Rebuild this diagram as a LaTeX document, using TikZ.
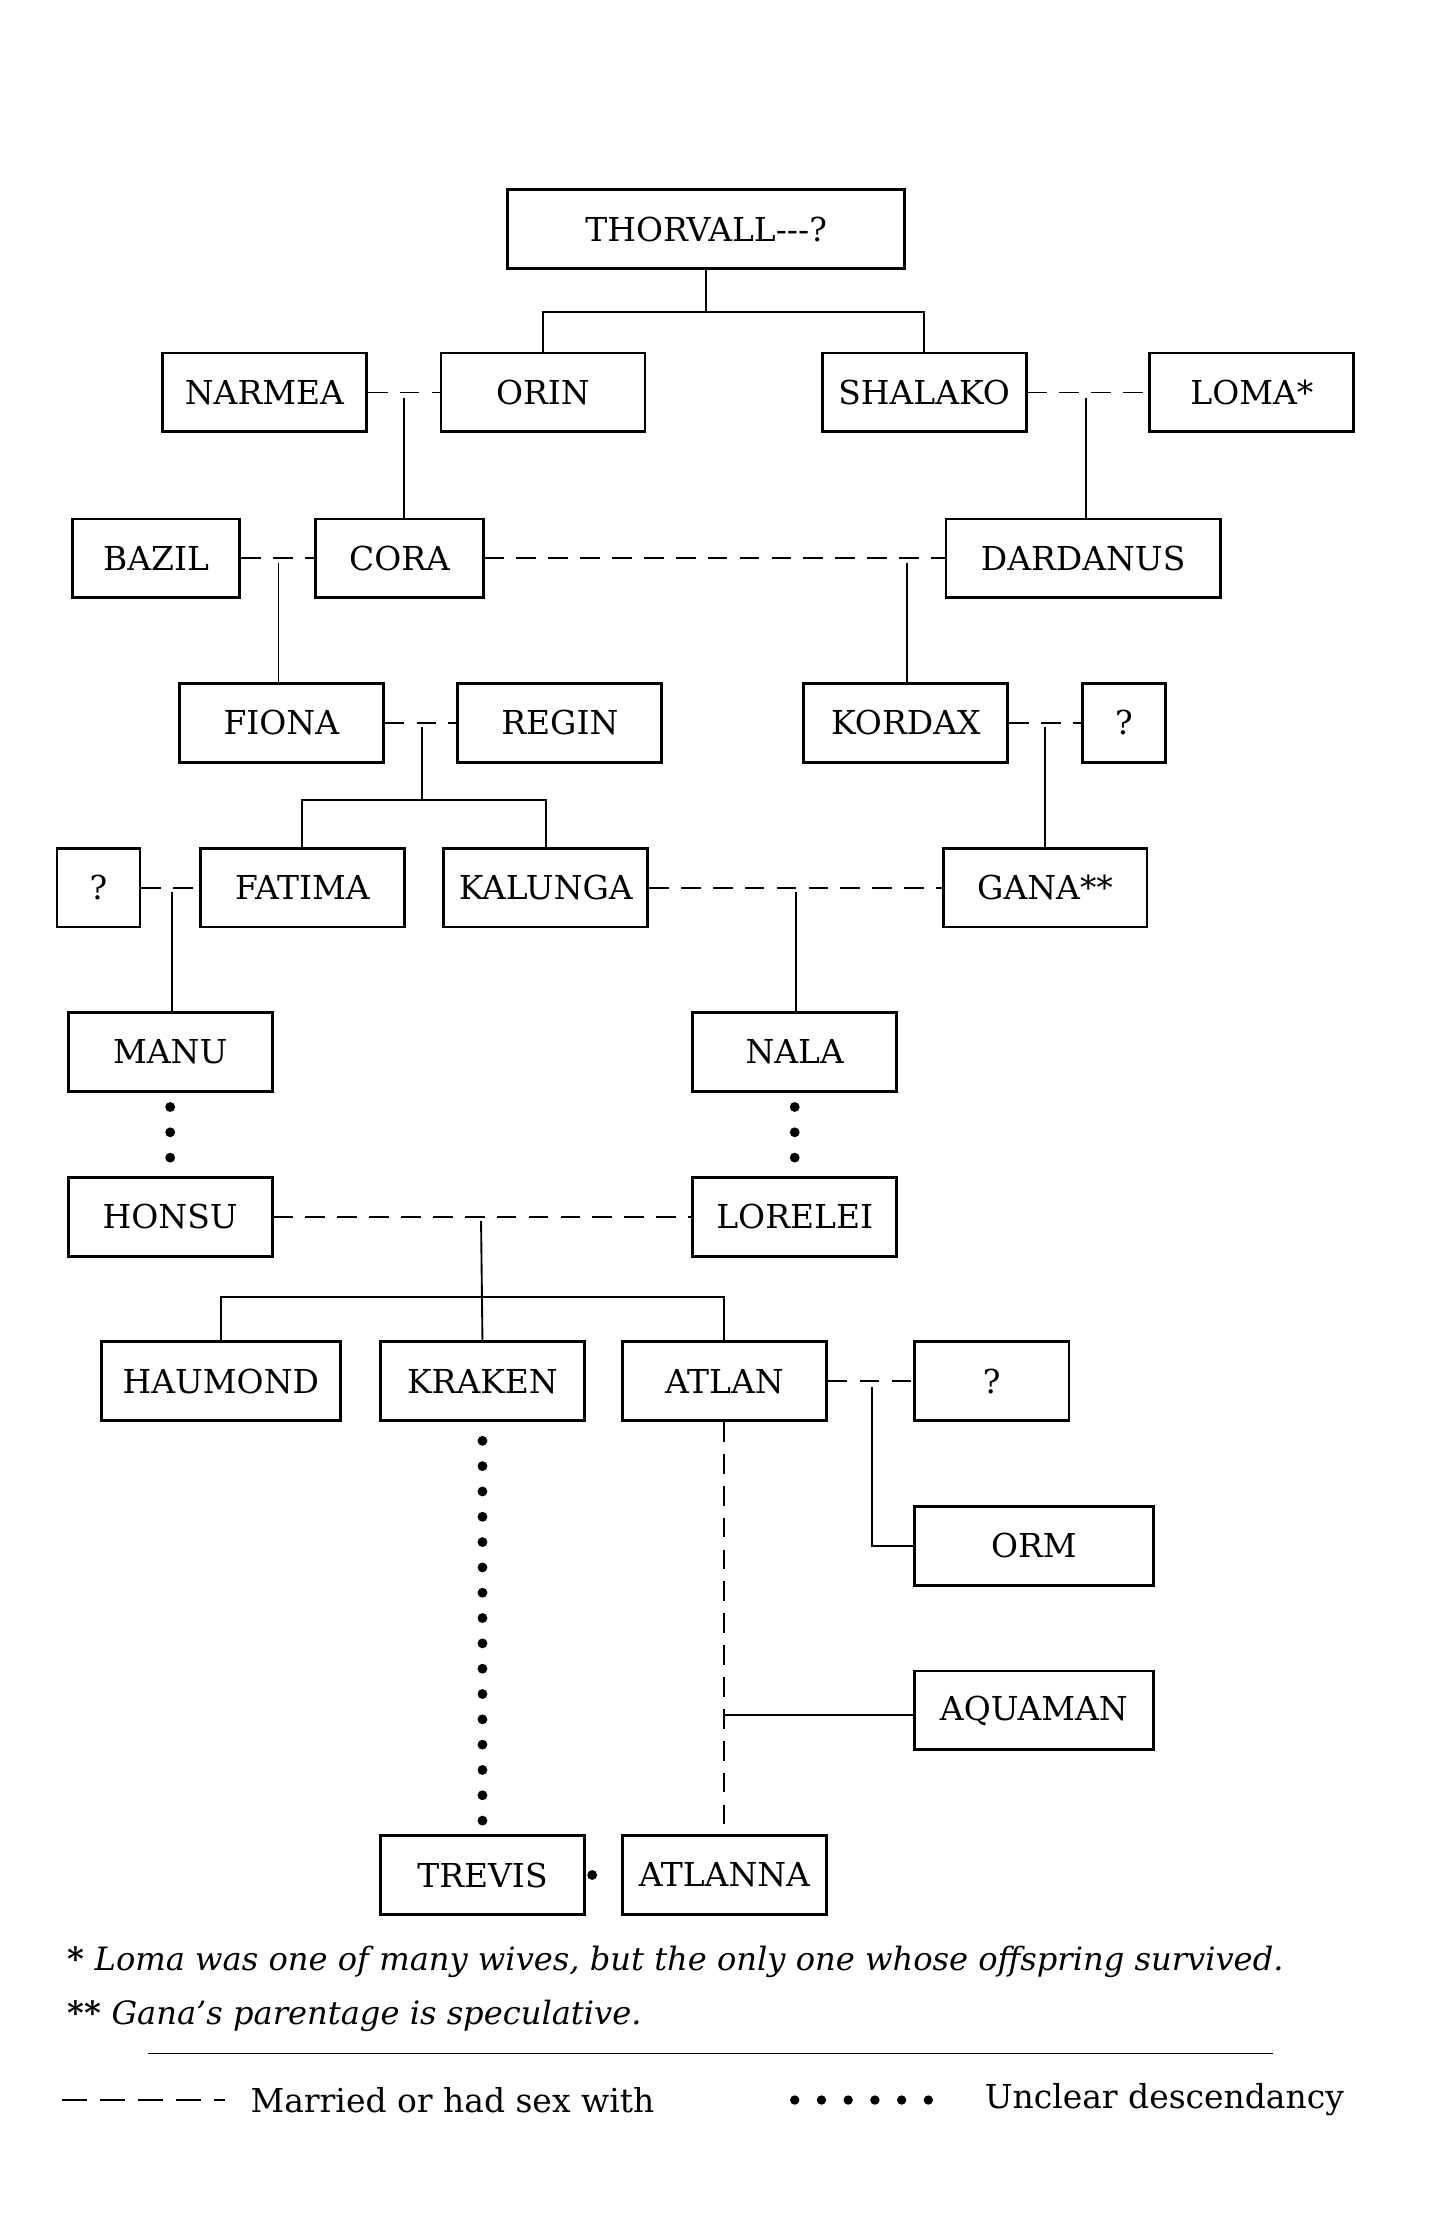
\documentclass[tikz,border=0pt]{standalone}
\usepackage{fontspec}
\setmainfont{DejaVu Serif}
\begin{document}
\begin{tikzpicture}[x=0.3mm,y=-0.3mm,
 box/.style={draw,line width=0.6mm,minimum height=16.8mm,inner sep=0,font=\fontsize{20}{22}\selectfont},
 w145/.style={box,minimum width=43.5mm},
 ln/.style={line width=0.4mm},
 md/.style={line width=0.4mm,dash pattern=on 4.2mm off 2.6mm},
 dt/.style={line width=2.1mm,line cap=round,dash pattern=on 0mm off 5.4mm}]
\useasboundingbox (0,0) rectangle (1024,1579);
\node[box,minimum width=84.6mm] (th) at (502,163) {THORVALL{-}{-}{-}?};
\node[w145] (narmea) at (188,279) {NARMEA};
\node[w145] (orin) at (386,279) {ORIN};
\node[w145] (shalako) at (657,279) {SHALAKO};
\node[w145] (loma) at (890,279) {LOMA*};
\node[box,minimum width=35.7mm] (bazil) at (111,397) {BAZIL};
\node[box,minimum width=35.7mm] (cora) at (284,397) {CORA};
\node[box,minimum width=58.5mm] (dard) at (770,397) {DARDANUS};
\node[w145] (fiona) at (200,514) {FIONA};
\node[w145] (regin) at (398,514) {REGIN};
\node[w145] (kordax) at (644,514) {KORDAX};
\node[box,minimum width=17.7mm] (q1) at (799,514) {?};
\node[box,minimum width=17.7mm] (q2) at (70,631) {?};
\node[w145] (fatima) at (215,631) {FATIMA};
\node[w145] (kalunga) at (388,631) {KALUNGA};
\node[w145] (gana) at (743,631) {GANA**};
\node[w145] (manu) at (121,748) {MANU};
\node[w145] (nala) at (565,748) {NALA};
\node[w145] (honsu) at (121,865) {HONSU};
\node[w145] (lorelei) at (565,865) {LORELEI};
\node[box,minimum width=51mm] (haumond) at (157,982) {HAUMOND};
\node[w145] (kraken) at (343,982) {KRAKEN};
\node[w145] (atlan) at (515,982) {ATLAN};
\node[box,minimum width=33mm] (q3) at (705,982) {?};
\node[box,minimum width=51mm] (orm) at (735,1099) {ORM};
\node[box,minimum width=51mm] (aquaman) at (735,1216) {AQUAMAN};
\node[w145] (trevis) at (343,1333) {TREVIS};
\node[w145] (atlanna) at (515,1333) {ATLANNA};
% Thorvall
\draw[ln] (th.south) -- (502,222) coordinate (t1);
\draw[ln] (orin.north) |- (t1) -| (shalako.north);
% marriages with tees
\draw[md] (narmea.east) -- (orin.west);
\draw[ln] (287,283) coordinate (m1) -- (m1 |- cora.north);
\draw[md] (shalako.east) -- (loma.west);
\draw[ln] (772,283) coordinate (m2) -- (m2 |- dard.north);
\draw[md] (bazil.east) -- (cora.west);
\draw[ln] (198,400) coordinate (m3) -- (m3 |- fiona.north);
\draw[md] (cora.east) -- (dard.west);
\draw[ln] (645,400) coordinate (m4) -- (m4 |- kordax.north);
\draw[md] (fiona.east) -- (regin.west);
\draw[ln] (300,517) coordinate (m5) -- (300,569) coordinate (m5b);
\draw[ln] (fatima.north) |- (m5b) -| (kalunga.north);
\draw[md] (kordax.east) -- (q1.west);
\draw[ln] (743,517) coordinate (m6) -- (m6 |- gana.north);
\draw[md] (q2.east) -- (fatima.west);
\draw[ln] (122,634) coordinate (m7) -- (m7 |- manu.north);
\draw[md] (kalunga.east) -- (gana.west);
\draw[ln] (566,634) coordinate (m8) -- (m8 |- nala.north);
\draw[dt] ([yshift=-3mm]manu.south) -- (honsu.north);
\draw[dt] ([yshift=-3mm]nala.south) -- (lorelei.north);
\draw[md] (honsu.east) -- (lorelei.west);
\draw[ln] (342,868) coordinate (m9) -- (kraken.north);
\draw[ln] (haumond.north) |- (342,922) -| (atlan.north);
\draw[md] (atlan.east) -- (q3.west);
\draw[ln] (620,986) coordinate (m10) |- (orm.west);
\draw[dt] ([yshift=-4mm]kraken.south) -- (trevis.north);
\draw[md] (atlan.south) -- (atlanna.north);
\draw[ln] (515,1219) coordinate (m11) -- (m11 -| aquaman.west);
\coordinate (d1) at (421,1333); \coordinate (d2) at (437,1333);
\draw[line width=2.1mm,line cap=round,dash pattern=on 0mm off 4.8mm] (d1) -- (d2);
% notes
\node[anchor=west,font=\fontsize{19.5}{22}\selectfont] (n1) at (44,1395) {\textbf{*} \textit{Loma was one of many wives, but the only one whose offspring survived.}};
\node[anchor=west,font=\fontsize{19.5}{22}\selectfont] (n2) at (44,1433) {\textbf{**} \textit{Gana's parentage is speculative.}};
\draw[line width=0.3mm] (105,1460) -- (905,1460);
\coordinate (l1) at (44,1493); \coordinate (l2) at (160,1493);
\draw[line width=0.6mm,dash pattern=on 5.4mm off 2.7mm] (l1) -- (l2);
\node[anchor=west,font=\fontsize{20}{22}\selectfont] (t1) at (174,1493) {Married or had sex with};
\coordinate (l3) at (565,1493); \coordinate (l4) at (679,1493);
\draw[line width=2mm,line cap=round,dash pattern=on 0mm off 5.7mm] (l3) -- (l4);
\node[anchor=west,font=\fontsize{20}{22}\selectfont] (t2) at (696,1493) {Unclear descendancy};
\end{tikzpicture}
\end{document}
